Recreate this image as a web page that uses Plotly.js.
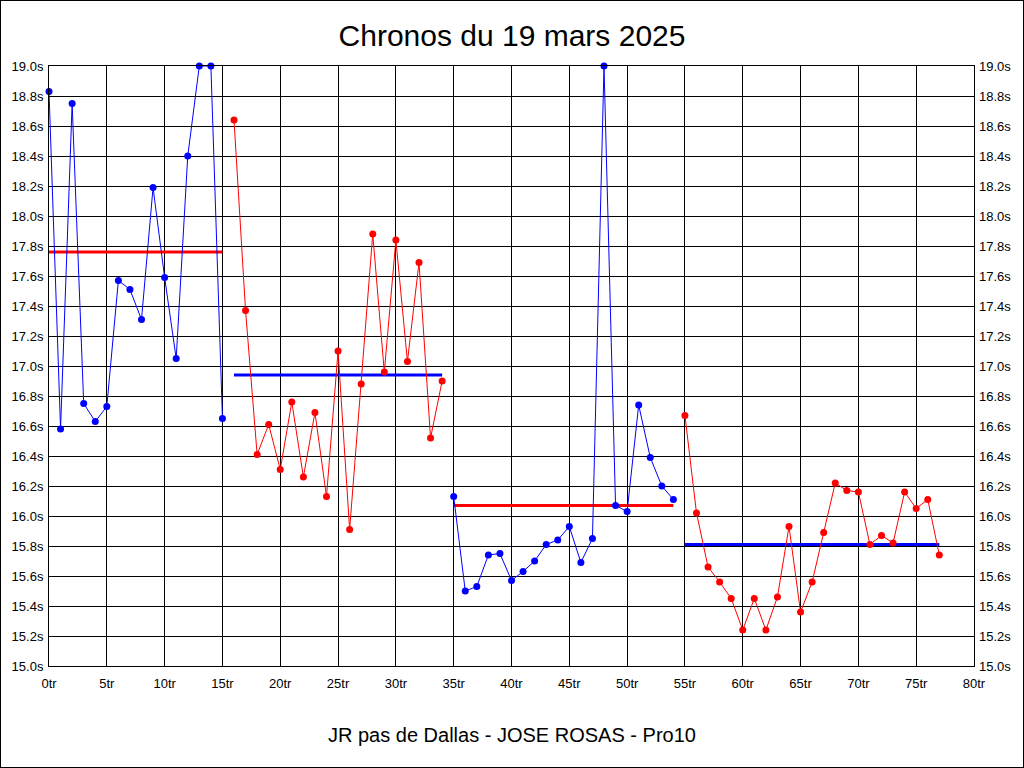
<!DOCTYPE html>
<html>
<head>
<meta charset="utf-8">
<script src="https://cdn.plot.ly/plotly-3.0.1.min.js"></script>
<style>
  html, body { margin: 0; padding: 0; background: #fff; }
  #frame { width: 1024px; height: 768px; box-sizing: border-box; border: 1px solid #000; overflow: hidden; }
</style>
</head>
<body>
<div id="frame"><div id="chart"></div></div>
<script>
// Lap numbers and lap times (seconds), per session block
const laps1 = [0,1,2,3,4,5,6,7,8,9,10,11,12,13,14,15];
const times1 = [18.83,16.58,18.75,16.75,16.63,16.73,17.57,17.51,17.31,18.19,17.59,17.05,18.40,19.00,19.00,16.65];
const avg1 = 17.76;

const laps2 = [16,17,18,19,20,21,22,23,24,25,26,27,28,29,30,31,32,33,34];
const times2 = [18.64,17.37,16.41,16.61,16.31,16.76,16.26,16.69,16.13,17.10,15.91,16.88,17.88,16.96,17.84,17.03,17.69,16.52,16.90];
const avg2 = 16.94;

const laps3 = [35,36,37,38,39,40,41,42,43,44,45,46,47,48,49,50,51,52,53,54];
const times3 = [16.13,15.50,15.53,15.74,15.75,15.57,15.63,15.70,15.81,15.84,15.93,15.69,15.85,19.00,16.07,16.03,16.74,16.39,16.20,16.11];
const avg3 = 16.07;

const laps4 = [55,56,57,58,59,60,61,62,63,64,65,66,67,68,69,70,71,72,73,74,75,76,77];
const times4 = [16.67,16.02,15.66,15.56,15.45,15.24,15.45,15.24,15.46,15.93,15.36,15.56,15.89,16.22,16.17,16.16,15.81,15.87,15.82,16.16,16.05,16.11,15.74];
const avg4 = 15.81;

const blocks = [
  {x: laps1, y: times1, avg: avg1, color: '#0000FF', avgColor: '#FF0000'},
  {x: laps2, y: times2, avg: avg2, color: '#FF0000', avgColor: '#0000FF'},
  {x: laps3, y: times3, avg: avg3, color: '#0000FF', avgColor: '#FF0000'},
  {x: laps4, y: times4, avg: avg4, color: '#FF0000', avgColor: '#0000FF'}
];

const xTicks = [0,5,10,15,20,25,30,35,40,45,50,55,60,65,70,75,80];
const yTicks = [15.0,15.2,15.4,15.6,15.8,16.0,16.2,16.4,16.6,16.8,17.0,17.2,17.4,17.6,17.8,18.0,18.2,18.4,18.6,18.8,19.0];

const traces = [];
blocks.forEach(b => {
  traces.push({
    x: [b.x[0], b.x[b.x.length - 1]],
    y: [b.avg, b.avg],
    mode: 'lines',
    line: {color: b.avgColor, width: 3},
    hoverinfo: 'skip',
    showlegend: false
  });
  traces.push({
    x: b.x, y: b.y,
    mode: 'lines+markers',
    line: {color: b.color, width: 1},
    marker: {color: b.color, size: 7},
    cliponaxis: false,
    showlegend: false
  });
});
// invisible trace to anchor the right-hand axis
traces.push({x: [0], y: [15], yaxis: 'y2', mode: 'markers', marker: {opacity: 0}, hoverinfo: 'skip', showlegend: false});

const tickFont = {family: 'Liberation Sans Narrow, Liberation Sans, Arial, sans-serif', size: 13, color: '#000'};

const layout = {
  width: 1022, height: 766,
  margin: {l: 48, r: 49, t: 65, b: 101, pad: 0},
  paper_bgcolor: '#fff', plot_bgcolor: '#fff',
  title: {text: 'Chronos du 19 mars 2025', font: {family: 'Liberation Sans, Arial, sans-serif', size: 30, color: '#000'}, x: 0.5, xanchor: 'center', y: 0.955, yanchor: 'middle'},
  xaxis: {
    range: [0, 80], tickvals: xTicks, ticktext: xTicks.map(v => v + 'tr'),
    showgrid: true, gridcolor: '#000', gridwidth: 1,
    zeroline: false, showline: true, linecolor: '#000', linewidth: 1, mirror: true,
    ticks: '', ticklabelstandoff: 5, tickfont: tickFont, fixedrange: true
  },
  yaxis: {
    range: [15, 19], tickvals: yTicks, ticktext: yTicks.map(v => v.toFixed(1) + 's'),
    showgrid: true, gridcolor: '#000', gridwidth: 1,
    zeroline: false, showline: true, linecolor: '#000', linewidth: 1, mirror: true,
    ticks: '', ticklabelstandoff: 2, tickfont: tickFont, fixedrange: true
  },
  yaxis2: {
    range: [15, 19], tickvals: yTicks, ticktext: yTicks.map(v => v.toFixed(1) + 's'),
    overlaying: 'y', side: 'right', showgrid: false, zeroline: false,
    ticks: '', ticklabelstandoff: 4, tickfont: tickFont, fixedrange: true
  },
  annotations: [{
    text: 'JR pas de Dallas - JOSE ROSAS - Pro10',
    xref: 'paper', yref: 'paper', x: 0.5, y: -0.115, xanchor: 'center', yanchor: 'middle',
    showarrow: false, font: {family: 'Liberation Sans, Arial, sans-serif', size: 20, color: '#000'}
  }],
  hovermode: false
};

Plotly.newPlot('chart', traces, layout, {displayModeBar: false, staticPlot: true});
</script>
</body>
</html>
